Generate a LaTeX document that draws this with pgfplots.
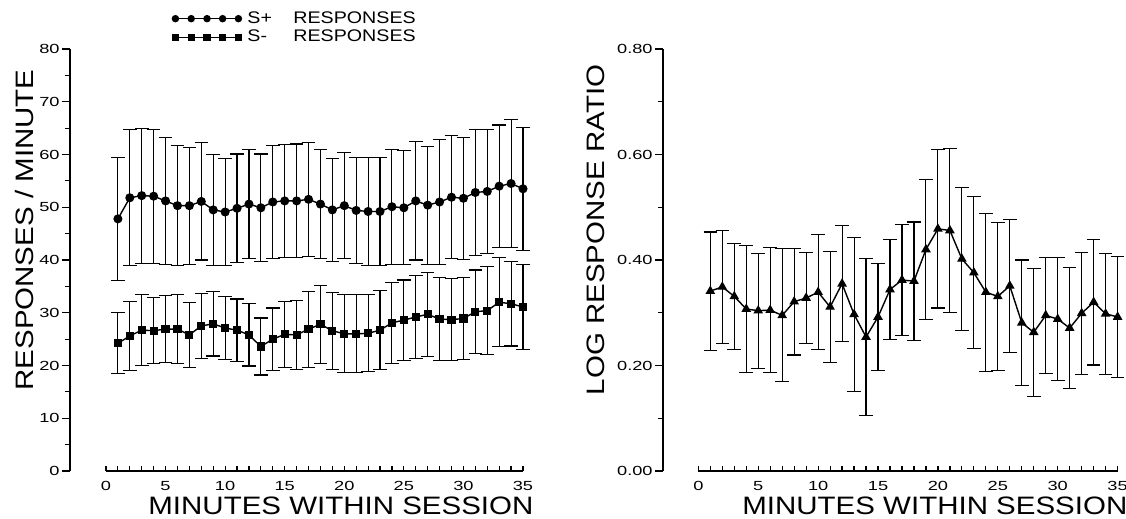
\documentclass[border=0pt]{standalone}
\usepackage{fontspec}
\setmainfont{Liberation Sans}
\newfontfamily\tickfont{Liberation Sans}[FakeStretch=1.38]
\newfontfamily\labfont{Liberation Sans}[FakeStretch=1.17]
\usepackage{pgfplots}
\usepackage{pgfplotstable}
\pgfplotsset{compat=1.18}

% minute, mean, error (half bar)
\pgfplotstableread{
x y e
1 47.8 11.7
2 51.8 12.9
3 52.2 12.8
4 52.1 12.7
5 51.2 12.1
6 50.3 11.4
7 50.3 11.1
8 51.1 11.1
9 49.5 10.5
10 49.1 10.2
11 49.8 10.3
12 50.6 10.4
13 49.9 10.2
14 51.0 10.7
15 51.2 10.7
16 51.2 10.8
17 51.5 10.8
18 50.6 10.4
19 49.5 9.7
20 50.3 10.0
21 49.4 10.0
22 49.2 10.2
23 49.2 10.2
24 50.1 10.9
25 49.9 10.8
26 51.2 11.2
27 50.4 11.2
28 51.0 11.8
29 51.9 11.7
30 51.7 11.6
31 52.8 12.0
32 53.0 11.8
33 54.0 11.6
34 54.5 12.1
35 53.5 11.7
}\splus

\pgfplotstableread{
x y e
1 24.2 5.8
2 25.6 6.6
3 26.7 6.7
4 26.6 6.3
5 26.9 6.3
6 26.9 6.5
7 25.8 6.1
8 27.5 6.2
9 27.9 6.1
10 27.1 6.0
11 26.7 5.9
12 25.8 5.9
13 23.6 5.4
14 25.0 5.9
15 25.9 6.3
16 25.8 6.5
17 26.9 7.2
18 27.8 7.4
19 26.6 7.3
20 26.0 7.4
21 26.0 7.4
22 26.1 7.3
23 26.7 7.5
24 28.1 7.7
25 28.6 7.6
26 29.2 7.9
27 29.7 8.0
28 28.8 7.8
29 28.7 7.8
30 28.9 7.7
31 30.2 7.9
32 30.4 8.3
33 32.0 8.4
34 31.7 8.0
35 31.1 8.0
}\sminus

\pgfplotstableread{
x y e
1 0.341 0.112
2 0.349 0.107
3 0.331 0.101
4 0.307 0.121
5 0.304 0.109
6 0.305 0.118
7 0.295 0.126
8 0.321 0.101
9 0.328 0.087
10 0.339 0.109
11 0.311 0.105
12 0.355 0.110
13 0.297 0.146
14 0.254 0.149
15 0.292 0.101
16 0.344 0.095
17 0.362 0.105
18 0.360 0.112
19 0.420 0.132
20 0.459 0.150
21 0.456 0.155
22 0.402 0.135
23 0.376 0.144
24 0.339 0.150
25 0.331 0.140
26 0.351 0.126
27 0.281 0.119
28 0.263 0.121
29 0.295 0.110
30 0.288 0.117
31 0.271 0.114
32 0.299 0.116
33 0.320 0.119
34 0.298 0.115
35 0.292 0.114
}\logratio

\pgfplotsset{
  panel/.style={
    scale only axis, height=211pt, anchor=south west, clip=false,
    axis y line*=left, axis x line*=bottom,
    axis line style={line width=0.7pt},
    x axis line style={draw=none},
    tick align=outside, major tick length=4pt, minor tick length=2.5pt,
    every tick/.style={black, line width=0.6pt},
    every major x tick/.append style={draw opacity=0},
    xmax=35, xtick={0,5,...,35}, xticklabels={0,5,10,15,20,25,30,35},
    minor xtick={0,1,...,35},
    xtick style={yshift=2.5pt},
    tick label style={font=\tickfont\fontsize{6.6}{7.5}\selectfont, inner sep=1pt},
    label style={font=\labfont\fontsize{12.6}{14}\selectfont, inner sep=0pt},
    xlabel={MINUTES WITHIN SESSION},
    xlabel style={at={(axis description cs:0.598,-0.083)}, anchor=center},
  },
  series/.style={black, line width=0.7pt, mark=#1, mark options={solid},
    error bars/.cd, y dir=both, y explicit,
    error bar style={line width=0.55pt},
    error mark options={rotate=90, mark size=3.4pt, line width=0.55pt}},
}

\begin{document}
\begin{tikzpicture}
\useasboundingbox (0,0) rectangle (563pt,-259.5pt);

\begin{axis}[panel,
  at={(35pt,-235.5pt)}, width=226.5pt, xmin=-3.02,
  ymin=0, ymax=80, ytick={0,10,...,80},
  yticklabels={0,10,20,30,40,50,60,70,80},
  minor ytick={5,15,...,75},
  ylabel={RESPONSES / MINUTE},
  ylabel style={at={(axis description cs:-0.1015,0.571)}, anchor=center},
  legend cell align=left,
  legend style={at={(axis description cs:0.2252,1.095)}, anchor=north west,
    draw=none, fill=none, inner sep=0pt, row sep=0pt,
    nodes={inner sep=1pt},
    font=\labfont\fontsize{8.4}{9}\selectfont},
  legend image code/.code={\draw[#1, mark size=1.5pt] plot coordinates
    {(0pt,0pt) (7.9pt,0pt) (15.8pt,0pt) (23.6pt,0pt) (31.5pt,0pt)};},
]
\draw[line width=0.7pt] (axis cs:0,0) -- (axis cs:35,0);
\addplot[mark size=1.9pt, series=*] table[x=x, y=y, y error=e] {\splus};
\addlegendentry{\hspace{2pt}\makebox[23pt][l]{S+}RESPONSES}
\addplot[mark size=1.7pt, series=square*] table[x=x, y=y, y error=e] {\sminus};
\addlegendentry{\hspace{2pt}\makebox[23pt][l]{S-}RESPONSES}
\end{axis}

\begin{axis}[panel,
  at={(331.5pt,-235.5pt)}, width=227.3pt, xmin=-2.95,
  ymin=0, ymax=0.8, ytick={0,0.2,0.4,0.6,0.8},
  yticklabels={0.00,0.20,0.40,0.60,0.80},
  minor ytick={0.1,0.3,0.5,0.7},
  ylabel={LOG RESPONSE RATIO},
  ylabel style={at={(axis description cs:-0.147,0.571)}, anchor=center},
]
\draw[line width=0.7pt] (axis cs:0,0) -- (axis cs:35,0);
\addplot[mark size=2.1pt, series=triangle*] table[x=x, y=y, y error=e] {\logratio};
\end{axis}
\end{tikzpicture}
\end{document}
